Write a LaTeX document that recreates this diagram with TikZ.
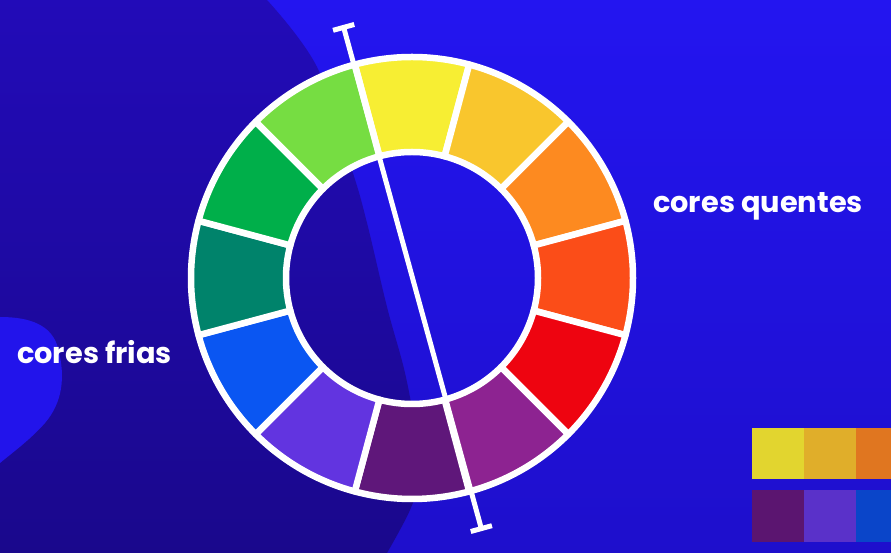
\documentclass[tikz,border=0pt]{standalone}
\usepackage{fontspec}
\setmainfont{Poppins}
\usetikzlibrary{arrows.meta,calc}
\definecolor{bgbright}{HTML}{2315F0}
\definecolor{bgbrightb}{HTML}{1E0FCC}
\definecolor{bgdark}{HTML}{220BB8}
\definecolor{bgdarkb}{HTML}{1A088C}
\definecolor{wyellow}{HTML}{F7EE33}
\definecolor{wyorange}{HTML}{F9C62D}
\definecolor{worange}{HTML}{FD8A20}
\definecolor{wredorange}{HTML}{FB4D18}
\definecolor{wred}{HTML}{EE0410}
\definecolor{wmagenta}{HTML}{8D2391}
\definecolor{wdpurple}{HTML}{5F177A}
\definecolor{wviolet}{HTML}{6234E0}
\definecolor{wblue}{HTML}{0A56F2}
\definecolor{wteal}{HTML}{00836B}
\definecolor{wgreen}{HTML}{00AF4A}
\definecolor{wlgreen}{HTML}{76DD42}
\definecolor{swA}{HTML}{E2D52F}
\definecolor{swB}{HTML}{E0AE2A}
\definecolor{swC}{HTML}{E07620}
\definecolor{swD}{HTML}{5B1570}
\definecolor{swE}{HTML}{5A31C9}
\definecolor{swF}{HTML}{0A45C9}
\tikzset{
  seg/.style={draw=white, line width=6.5pt, line join=round},
  lbl/.style={text=white, inner sep=0pt, font=\fontsize{28.8}{30}\selectfont\bfseries},
  axisline/.style={draw=white, line width=5pt, {Bar[width=22pt]}-{Bar[width=22pt]}},
}
\begin{document}
\begin{tikzpicture}[x=1pt,y=1pt]
\useasboundingbox (0,0) rectangle (891,553);
\clip (0,0) rectangle (891,553);
% background
\shade[top color=bgbright, bottom color=bgbrightb] (0,0) rectangle (891,553);
\shade[top color=bgdark, bottom color=bgdarkb] (0,553) -- plot[smooth, tension=0.6] coordinates {(267,553) (317,486) (352,383) (367,330) (387,246) (405,180) (415,123) (418,73) (410,43) (387,0)} -- (0,0) -- cycle;
\fill[bgbright!85!bgbrightb] (0,236) .. controls (30,236) and (52,228) .. (58,205) .. controls (66,175) and (62,150) .. (45,130) .. controls (30,113) and (12,100) .. (0,90) -- cycle;
% wheel
\coordinate (c) at (412,275);
\foreach \a/\col in {75/wyellow, 45/wyorange, 15/worange, -15/wredorange, -45/wred, -75/wmagenta, -105/wdpurple, -135/wviolet, -165/wblue, 165/wteal, 135/wgreen, 105/wlgreen}{
  \draw[seg, fill=\col] ($(c)+(\a:221)$) arc[start angle=\a, end angle=\a+30, radius=221]
    -- ($(c)+(\a+30:126)$) arc[start angle=\a+30, end angle=\a, radius=126] -- cycle;
}
% axis line
\coordinate (ltop) at (343,528);
\coordinate (lbot) at (482,22);
\draw[axisline] (ltop) -- (lbot);
% labels
\node[lbl, anchor=base west] (warm) at (653,340) {cores quentes};
\node[lbl, anchor=base west] (cold) at (17,189) {cores frias};
% swatches
\fill[swA] (752,74) rectangle (804,125);
\fill[swB] (804,74) rectangle (856,125);
\fill[swC] (856,74) rectangle (908,125);
\fill[swD] (752,11) rectangle (804,63);
\fill[swE] (804,11) rectangle (856,63);
\fill[swF] (856,11) rectangle (908,63);
\end{tikzpicture}
\end{document}
